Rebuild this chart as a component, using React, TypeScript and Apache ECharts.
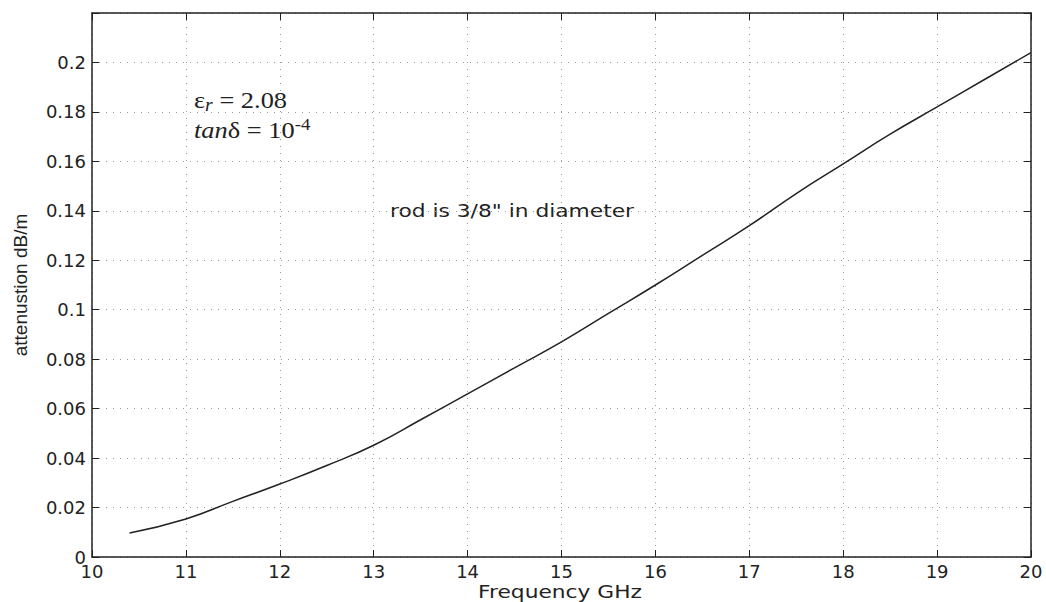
import React, { useEffect, useRef } from "react";
import * as echarts from "echarts";

const freq = [10.4, 11, 11.5, 12, 12.5, 13, 13.5, 14, 14.5, 15, 15.5, 16, 16.5, 17, 17.5, 18, 18.5, 19, 19.5, 20];
const atten = [0.0097, 0.0154, 0.0225, 0.0295, 0.037, 0.0452, 0.0555, 0.066, 0.0765, 0.087, 0.0985, 0.110, 0.122, 0.134, 0.147, 0.159, 0.171, 0.182, 0.193, 0.204];
const xTicks = [10, 11, 12, 13, 14, 15, 16, 17, 18, 19, 20];
const yTickStep = 0.02;
const xName = "Frequency GHz";
const yName = "attenustion dB/m";

const font = "'DejaVu Sans', 'Liberation Sans', Arial, sans-serif";
const serif = "'Liberation Serif', 'DejaVu Serif', serif";

export default function App() {
  const ref = useRef<HTMLDivElement>(null);
  useEffect(() => {
    if (!ref.current) return;
    const chart = echarts.init(ref.current, null, { renderer: "svg" });
    const data = freq.map((f, i) => [f, atten[i]]);
    const grid = { left: 92, top: 13, right: 15, bottom: 45, outerBoundsMode: "none", containLabel: false };
    const gridLine = { show: true, lineStyle: { color: "#9a9a9a", type: [1, 6] as any, width: 1 } };
    const axisLine = { show: true, onZero: false, lineStyle: { color: "#222", width: 1.5 } };
    const axisTick = { show: true, inside: true, length: 7, lineStyle: { color: "#222" } };
    chart.setOption({
      animation: false,
      backgroundColor: "#ffffff",
      grid,
      xAxis: [
        {
          type: "value",
          min: xTicks[0],
          max: xTicks[xTicks.length - 1],
          interval: 1,
          axisLine,
          axisTick,
          axisLabel: { fontFamily: font, fontSize: 18, lineHeight: 15, color: "#222", margin: 7 },
          splitLine: gridLine,
        },
        {
          type: "value",
          position: "top",
          min: xTicks[0],
          max: xTicks[xTicks.length - 1],
          interval: 1,
          axisLine,
          axisTick,
          axisLabel: { show: false },
          splitLine: { show: false },
        },
      ],
      yAxis: [
        {
          type: "value",
          min: 0,
          max: 0.22,
          interval: yTickStep,
          name: yName,
          nameLocation: "middle",
          nameGap: 62,
          nameMoveOverlap: false,
          nameTextStyle: { fontFamily: "'Liberation Sans', Arial, sans-serif", fontSize: 19, color: "#222" },
          axisLine,
          axisTick,
          axisLabel: {
            fontFamily: font,
            fontSize: 18,
            lineHeight: 15,
            color: "#222",
            margin: 6,
            verticalAlign: "middle",
            formatter: (v: number) => {
              if (v > 0.21) return "";
              return String(parseFloat(v.toFixed(2)));
            },
          },
          splitLine: gridLine,
        },
        {
          type: "value",
          position: "right",
          min: 0,
          max: 0.22,
          interval: yTickStep,
          axisLine,
          axisTick,
          axisLabel: { show: false },
          splitLine: { show: false },
        },
      ],
      series: [
        {
          type: "line",
          data,
          smooth: 0.5,
          showSymbol: false,
          lineStyle: { color: "#222", width: 1.5 },
          xAxisIndex: 0,
          yAxisIndex: 0,
        },
      ],
      graphic: [
        {
          type: "text",
          x: 560,
          y: 592,
          scaleX: 1.28,
          style: { text: xName, fontFamily: font, fontSize: 17, fill: "#222", align: "center", verticalAlign: "middle" },
        },
        {
          type: "text",
          x: 194,
          y: 86,
          scaleX: 1.1,
          style: {
            text: "{s|ε}{sub|r}{s| = 2.08}",
            rich: {
              s: { fontFamily: serif, fontSize: 24, fill: "#222" },
              sub: { fontFamily: serif, fontStyle: "italic", fontSize: 18, fill: "#222", verticalAlign: "bottom", padding: [10, 0, 0, 0] },
            },
          },
        },
        {
          type: "text",
          x: 194,
          y: 116,
          scaleX: 1.1,
          style: {
            text: "{i|tan}{s|δ = 10}{sup|-4}",
            rich: {
              i: { fontFamily: serif, fontStyle: "italic", fontSize: 24, fill: "#222" },
              s: { fontFamily: serif, fontSize: 24, fill: "#222" },
              sup: { fontFamily: serif, fontSize: 17, fill: "#222", verticalAlign: "top", padding: [0, 0, 10, 0] },
            },
          },
        },
        {
          type: "text",
          x: 390,
          y: 203,
          scaleX: 1.28,
          style: { text: "rod is 3/8\" in diameter", fontFamily: font, fontSize: 17, fill: "#222" },
        },
      ],
    });
    return () => chart.dispose();
  }, []);
  return <div ref={ref} style={{ position: "fixed", left: 0, top: 0, width: 1046, height: 602 }} />;
}
